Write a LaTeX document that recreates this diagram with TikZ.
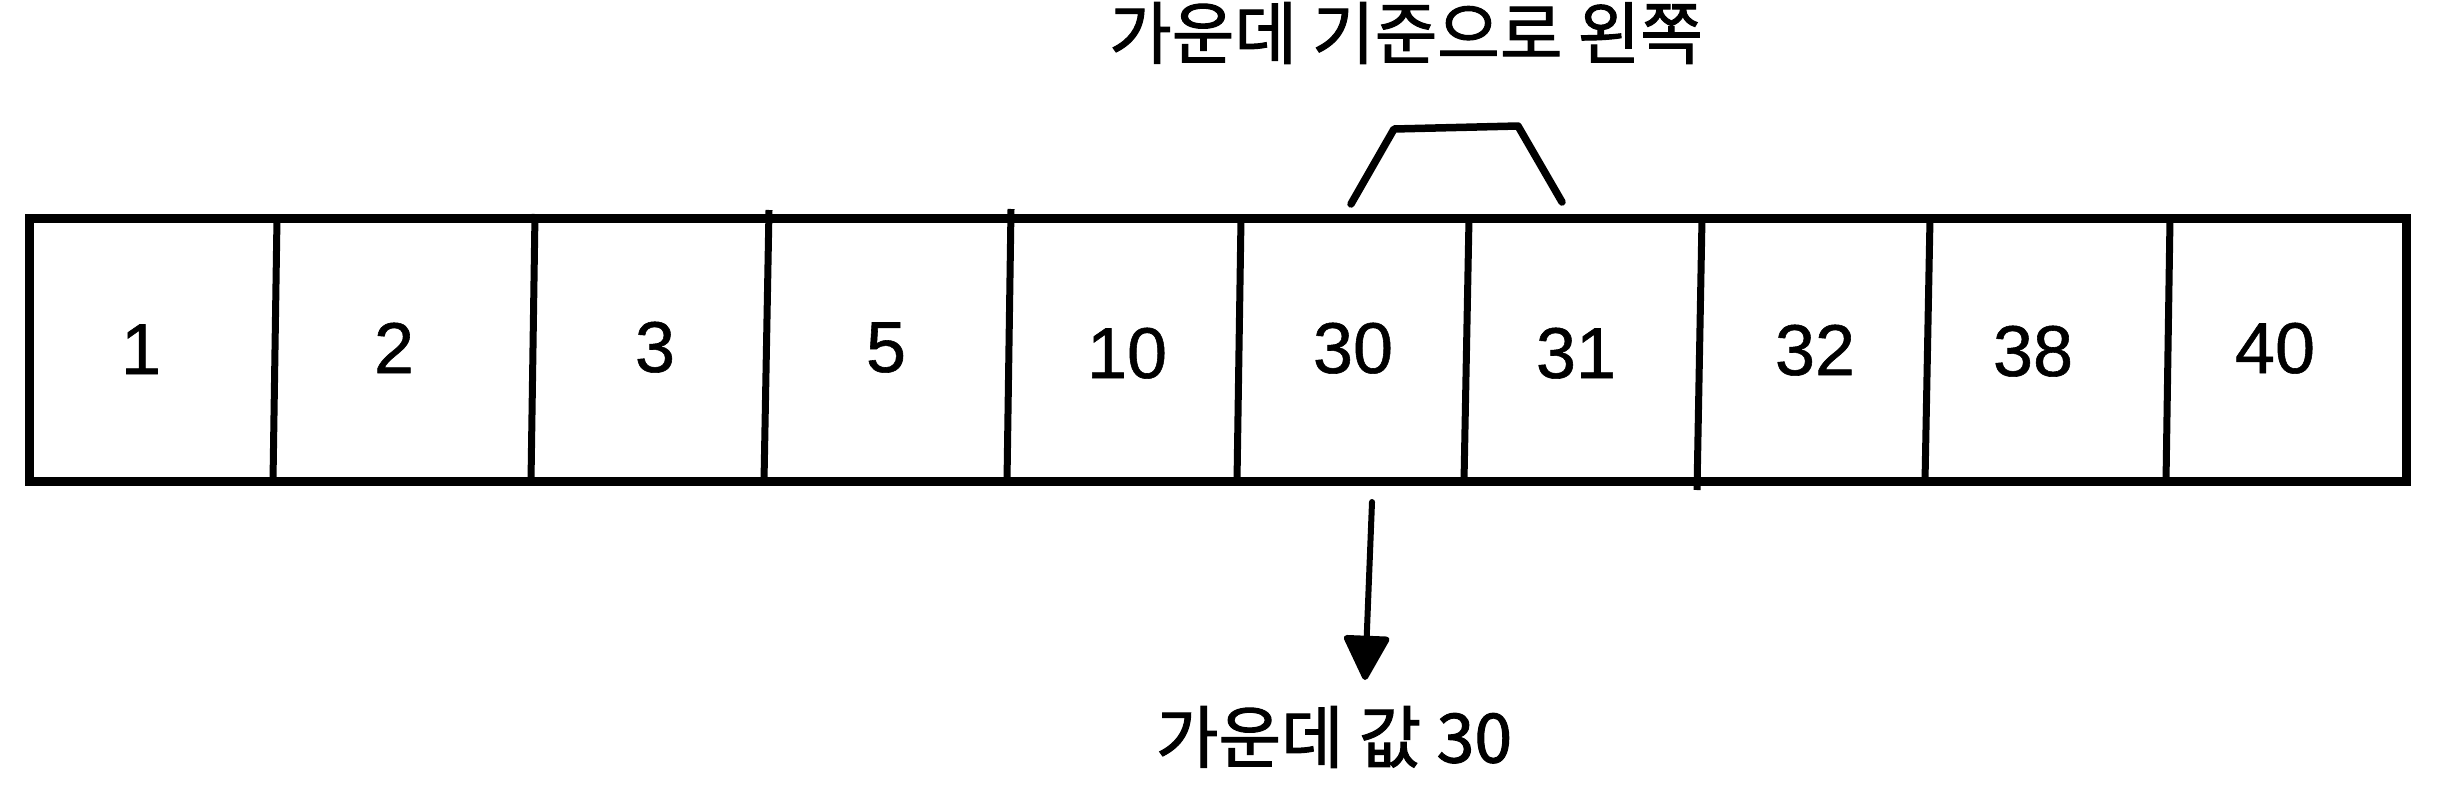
\documentclass[tikz,border=0pt]{standalone}
\usepackage{fontspec}
\setmainfont{Liberation Sans}
\newfontfamily\numfont[FakeBold=0.8]{Liberation Sans}
\newfontfamily\kofont[FakeBold=1.5]{Noto Sans CJK KR}
\usetikzlibrary{arrows.meta}
\tikzset{
  numlbl/.style={anchor=base, inner sep=0pt, font=\numfont\fontsize{72}{80}\selectfont},
  kolbl/.style={anchor=center, inner sep=0pt, font=\kofont\fontsize{68}{80}\selectfont},
  outer/.style={line width=9pt, line join=miter},
  divider/.style={line width=7pt},
  bracketline/.style={line width=7.5pt, line cap=round, line join=round},
  pointer/.style={line width=6pt, line cap=round, -{Triangle[length=48pt,width=48pt,round]}},
}
\begin{document}
\begin{tikzpicture}[x=1pt,y=-1pt]
\useasboundingbox (0,0) rectangle (2462,798);
% outer frame
\draw[outer] (29,218) rectangle (2406,481);
% dividers
\draw[divider] (277,218) -- (273,481);
\draw[divider] (535,214) -- (531,481);
\draw[divider] (769,210) -- (764,481);
\draw[divider] (1011,209) -- (1007,481);
\draw[divider] (1241,218) -- (1237,481);
\draw[divider] (1469,218) -- (1464,481);
\draw[divider] (1702,218) -- (1697,490);
\draw[divider] (1930,218) -- (1925,481);
\draw[divider] (2170,218) -- (2166,481);
% numbers
\node[numlbl] (n1)  at (141,374) {1};
\node[numlbl] (n2)  at (394,373) {2};
\node[numlbl] (n3)  at (655,372) {3};
\node[numlbl] (n4)  at (886,372) {5};
\node[numlbl] (n5)  at (1127,378) {10};
\node[numlbl] (n6)  at (1353,373) {30};
\node[numlbl] (n7)  at (1576,378) {31};
\node[numlbl] (n8)  at (1815,375) {32};
\node[numlbl] (n9)  at (2033,376) {38};
\node[numlbl] (n10) at (2275,373) {40};
% labels
\node[kolbl] (toplbl) at (1406,33) {가운데 기준으로 왼쪽};
\node[kolbl] (midlbl) at (1334,737) {가운데 값 30};
% bracket
\coordinate (bl) at (1351,204);
\coordinate (tl) at (1394,129);
\coordinate (tr) at (1518,126);
\coordinate (br) at (1562,202);
\draw[bracketline] (bl) -- (tl) -- (tr) -- (br);
% arrow
\coordinate (astart) at (1372,502);
\coordinate (aend) at (1365,680);
\draw[pointer] (astart) -- (aend);
\end{tikzpicture}
\end{document}
